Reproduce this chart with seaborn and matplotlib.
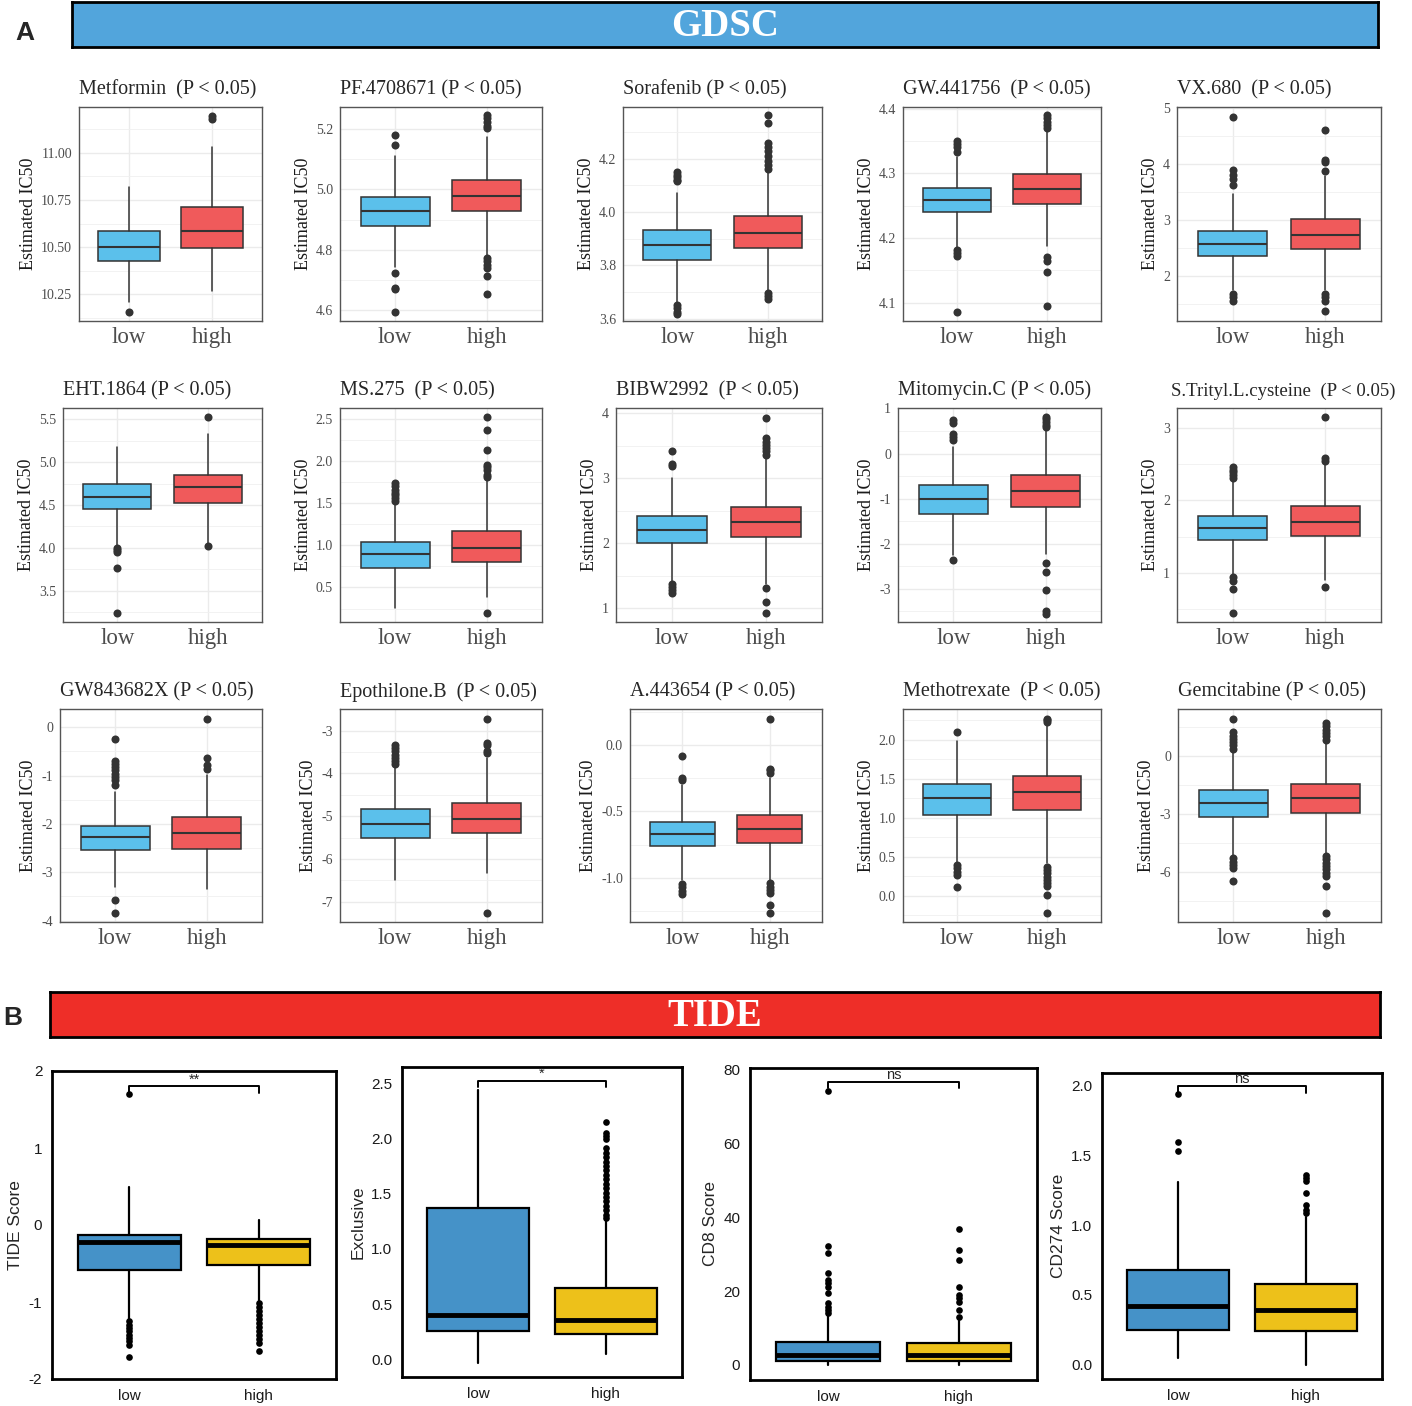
import matplotlib
matplotlib.use("Agg")
import matplotlib.pyplot as plt
import pandas as pd
import seaborn as sns
from matplotlib.ticker import AutoMinorLocator

# ---------------- data ----------------
groups = ["low", "high"]

gdsc_titles = [
    "Metformin  (P < 0.05)", "PF.4708671 (P < 0.05)", "Sorafenib (P < 0.05)",
    "GW.441756  (P < 0.05)", "VX.680  (P < 0.05)",
    "EHT.1864 (P < 0.05)", "MS.275  (P < 0.05)", "BIBW2992  (P < 0.05)",
    "Mitomycin.C (P < 0.05)", "S.Trityl.L.cysteine  (P < 0.05)",
    "GW843682X (P < 0.05)", "Epothilone.B  (P < 0.05)", "A.443654 (P < 0.05)",
    "Methotrexate  (P < 0.05)", "Gemcitabine (P < 0.05)",
]

# whisker low, q1, median, q3, whisker high
gdsc_low_box = [
    [10.211, 10.427, 10.502, 10.587, 10.817],
    [4.744, 4.879, 4.930, 4.976, 5.111],
    [3.661, 3.821, 3.875, 3.932, 4.072],
    [4.184, 4.240, 4.259, 4.277, 4.326],
    [1.74, 2.35, 2.57, 2.79, 3.45],
    [4.031, 4.453, 4.590, 4.742, 5.176],
    [0.262, 0.730, 0.893, 1.044, 1.51],
    [1.42, 2.0, 2.205, 2.42, 3.0],
    [-2.26, -1.348, -1.015, -0.70, 0.15],
    [0.99, 1.45, 1.62, 1.79, 2.26],
    [-3.30, -2.54, -2.28, -2.04, -1.34],
    [-6.49, -5.50, -5.18, -4.84, -3.85],
    [-1.015, -0.76, -0.67, -0.582, -0.304],
    [0.43, 1.04, 1.26, 1.44, 1.99],
    [-5.11, -3.14, -2.45, -1.73, 0.21],
]
gdsc_high_box = [
    [10.268, 10.495, 10.587, 10.711, 11.03],
    [4.783, 4.928, 4.979, 5.032, 5.174],
    [3.709, 3.865, 3.920, 3.985, 4.147],
    [4.188, 4.252, 4.275, 4.299, 4.366],
    [1.74, 2.48, 2.73, 3.01, 3.77],
    [4.051, 4.527, 4.707, 4.852, 5.328],
    [0.389, 0.798, 0.972, 1.173, 1.756],
    [1.38, 2.09, 2.33, 2.56, 3.30],
    [-2.22, -1.19, -0.837, -0.48, 0.53],
    [0.90, 1.51, 1.70, 1.93, 2.49],
    [-3.34, -2.51, -2.18, -1.85, -0.98],
    [-6.33, -5.40, -5.07, -4.69, -3.64],
    [-1.015, -0.74, -0.63, -0.53, -0.25],
    [0.417, 1.10, 1.33, 1.54, 2.18],
    [-4.99, -2.93, -2.16, -1.42, 0.63],
]
gdsc_low_out = [
    [10.158],
    [5.18, 5.147, 4.722, 4.672, 4.669, 4.594],
    [4.150, 4.141, 4.132, 4.122, 4.116, 3.652, 3.640, 3.627, 3.618],
    [4.35, 4.345, 4.340, 4.333, 4.181, 4.177, 4.172, 4.086],
    [4.84, 3.88, 3.79, 3.73, 3.62, 1.68, 1.61, 1.54],
    [4.0, 3.973, 3.945, 3.762, 3.238],
    [1.744, 1.704, 1.657, 1.625, 1.597, 1.565, 1.526],
    [3.41, 3.22, 3.18, 1.38, 1.33, 1.28, 1.24],
    [0.74, 0.68, 0.44, 0.37, 0.30, -2.37],
    [2.46, 2.42, 2.39, 2.35, 2.31, 0.945, 0.89, 0.78, 0.44],
    [-0.24, -0.69, -0.76, -0.82, -0.89, -0.96, -1.03, -1.10, -1.20, -3.58, -3.84],
    [-3.33, -3.40, -3.48, -3.56, -3.64, -3.71, -3.79],
    [-0.085, -0.247, -0.262, -1.045, -1.07, -1.095, -1.12],
    [2.10, 0.396, 0.353, 0.31, 0.268, 0.11],
    [1.92, 1.23, 1.06, 0.89, 0.72, 0.55, 0.38, -5.28, -5.45, -5.62, -5.79, -6.45],
]
gdsc_high_out = [
    [11.195, 11.181],
    [5.247, 5.236, 5.224, 5.211, 5.203, 4.772, 4.761, 4.75, 4.739, 4.713, 4.652],
    [4.363, 4.335, 4.26, 4.245, 4.229, 4.21, 4.191, 4.175, 4.16, 3.696, 3.684, 3.674],
    [4.39, 4.385, 4.380, 4.374, 4.370, 4.17, 4.164, 4.147, 4.095],
    [4.60, 4.06, 4.03, 3.86, 1.68, 1.61, 1.54, 1.36],
    [5.523, 4.016],
    [2.516, 2.361, 2.131, 1.952, 1.925, 1.893, 1.833, 1.806, 0.198],
    [3.93, 3.615, 3.56, 3.51, 3.46, 3.41, 3.35, 1.31, 1.10, 0.93],
    [0.81, 0.76, 0.70, 0.64, 0.59, -2.44, -2.63, -3.04, -3.50, -3.56],
    [3.15, 2.58, 2.55, 0.81],
    [0.17, -0.64, -0.79, -0.86],
    [-2.73, -3.29, -3.34, -3.48, -3.53, -7.26],
    [0.195, -0.18, -0.19, -0.21, -1.04, -1.065, -1.09, -1.115, -1.2, -1.26],
    [2.27, 2.25, 2.23, 0.374, 0.332, 0.289, 0.247, 0.204, 0.162, 0.12, 0.01, -0.22],
    [1.70, 1.53, 1.36, 1.18, 1.01, 0.84, -5.16, -5.33, -5.50, -5.67, -5.85,
     -6.05, -6.22, -6.70, -8.11],
]
gdsc_yticks = [
    [10.25, 10.50, 10.75, 11.00], [4.6, 4.8, 5.0, 5.2], [3.6, 3.8, 4.0, 4.2],
    [4.1, 4.2, 4.3, 4.4], [2, 3, 4, 5],
    [3.5, 4.0, 4.5, 5.0, 5.5], [0.5, 1.0, 1.5, 2.0, 2.5], [1, 2, 3, 4],
    [-3, -2, -1, 0, 1], [1, 2, 3],
    [-4, -3, -2, -1, 0], [-7, -6, -5, -4, -3], [-1.0, -0.5, 0.0],
    [0.0, 0.5, 1.0, 1.5, 2.0], [-6, -3, 0],
]
gdsc_yticklabels = [
    ["10.25", "10.50", "10.75", "11.00"], ["4.6", "4.8", "5.0", "5.2"],
    ["3.6", "3.8", "4.0", "4.2"], ["4.1", "4.2", "4.3", "4.4"], ["2", "3", "4", "5"],
    ["3.5", "4.0", "4.5", "5.0", "5.5"], ["0.5", "1.0", "1.5", "2.0", "2.5"],
    ["1", "2", "3", "4"], ["-3", "-2", "-1", "0", "1"], ["1", "2", "3"],
    ["-4", "-3", "-2", "-1", "0"], ["-7", "-6", "-5", "-4", "-3"],
    ["-1.0", "-0.5", "0.0"], ["0.0", "0.5", "1.0", "1.5", "2.0"], ["-6", "-3", "0"],
]
gdsc_ylim = [
    (10.108, 11.243), (4.563, 5.274), (3.592, 4.394), (4.0716, 4.4026), (1.19, 5.01),
    (3.133, 5.633), (0.091, 2.627), (0.79, 4.077), (-3.74, 1.01), (0.321, 3.277),
    (-4.03, 0.377), (-7.47, -2.496), (-1.33, 0.269), (-0.336, 2.396), (-8.57, 2.43),
]

tide_ylabels = ["TIDE Score", "Exclusive", "CD8 Score", "CD274 Score"]
tide_low_box = [
    [-1.23, -0.59, -0.22, -0.13, 0.50],
    [-0.03, 0.26, 0.40, 1.37, 2.44],
    [0.0, 1.2, 2.7, 6.3, 13.5],
    [0.048, 0.25, 0.42, 0.68, 1.31],
]
tide_high_box = [
    [-1.0, -0.52, -0.26, -0.18, 0.065],
    [0.054, 0.23, 0.36, 0.646, 1.26],
    [0.0, 1.1, 2.7, 5.9, 12.2],
    [0.0, 0.24, 0.39, 0.58, 1.06],
]
tide_low_out = [
    [1.70, -1.25, -1.30, -1.34, -1.38, -1.43, -1.47, -1.51, -1.56, -1.72],
    [],
    [74.2, 32.2, 30.2, 24.8, 23.0, 22.1, 21.2, 19.4, 16.7, 15.8, 14.9, 14.0],
    [1.94, 1.60, 1.53],
]
tide_high_out = [
    [-1.01, -1.07, -1.12, -1.17, -1.22, -1.27, -1.33, -1.38, -1.43, -1.48, -1.53, -1.63],
    [2.15, 2.05, 2.02, 1.99, 1.91, 1.87, 1.83, 1.79, 1.75, 1.71, 1.67, 1.63, 1.59,
     1.55, 1.51, 1.47, 1.43, 1.39, 1.35, 1.31, 1.28],
    [36.9, 31.1, 28.4, 21.2, 18.9, 18.0, 17.1, 14.9, 13.1],
    [1.36, 1.34, 1.32, 1.23, 1.145, 1.11, 1.09],
]
tide_yticks = [
    [-2, -1, 0, 1, 2], [0.0, 0.5, 1.0, 1.5, 2.0, 2.5],
    [0, 20, 40, 60, 80], [0.0, 0.5, 1.0, 1.5, 2.0],
]
tide_yticklabels = [
    ["-2", "-1", "0", "1", "2"], ["0.0", "0.5", "1.0", "1.5", "2.0", "2.5"],
    ["0", "20", "40", "60", "80"], ["0.0", "0.5", "1.0", "1.5", "2.0"],
]
tide_ylim = [(-2, 2), (-0.157, 2.645), (-4.06, 80.3), (-0.103, 2.093)]
tide_bracket_top = [1.80, 2.52, 76.5, 2.0]
tide_bracket_tip = [1.72, 2.46, 74.8, 1.95]
tide_sig = ["**", "*", "ns", "ns"]

# ---------------- layout (pixels) ----------------
W, H = 1412, 1406
gdsc_rows = [(107, 321), (408, 622), (709, 922)]
gdsc_lefts = [[79, 340, 623, 903, 1177],
              [63, 340, 616, 898, 1177],
              [60, 340, 630, 903, 1178]]
gdsc_rights = [262, 542, 822, 1101, 1381]
tide_boxes = [(52, 336, 1071, 1379), (402, 682, 1067, 1377),
              (750, 1037, 1068, 1380), (1102, 1382, 1073, 1379)]

gdsc_colors = ["#5BC0EB", "#F05A5B"]
tide_colors = ["#4592C8", "#EDC11A"]
SERIF = ["Liberation Serif", "DejaVu Serif"]
SANS = ["Liberation Sans", "DejaVu Sans"]

sns.set_theme(style="white")
plt.rcParams["font.family"] = SERIF


def px_rect(l, r, t, b):
    return [l / W, 1 - b / H, (r - l) / W, (b - t) / H]


def to_stats(box):
    return {"whislo": box[0], "q1": box[1], "med": box[2], "q3": box[3],
            "whishi": box[4], "fliers": []}


def outlier_frame(lo, hi):
    return pd.DataFrame({"group": ["low"] * len(lo) + ["high"] * len(hi),
                         "value": list(lo) + list(hi)})


def draw_boxes(ax, low, high, colors, width, edge, lw, med_lw):
    bp = ax.bxp([to_stats(low), to_stats(high)], positions=[0, 1], widths=width,
                patch_artist=True, showcaps=False, showfliers=False,
                manage_ticks=False,
                boxprops=dict(edgecolor=edge, linewidth=lw),
                medianprops=dict(color=edge, linewidth=med_lw),
                whiskerprops=dict(color=edge, linewidth=lw))
    for patch, c in zip(bp["boxes"], colors):
        patch.set_facecolor(c)
        patch.set_zorder(2)


fig = plt.figure(figsize=(W / 100, H / 100), dpi=100)

# banners
for (l, r, t, b), col, txt in [((72, 1378, 2, 47), "#52A5DC", "GDSC"),
                               ((50, 1380, 992, 1037), "#EE2E28", "TIDE")]:
    bax = fig.add_axes(px_rect(l, r, t, b))
    bax.set_facecolor(col)
    bax.set_xticks([])
    bax.set_yticks([])
    for s in bax.spines.values():
        s.set_visible(True)
        s.set_linewidth(2)
        s.set_color("black")
    bax.text(0.5, 0.45, txt, transform=bax.transAxes, ha="center", va="center",
             color="white", fontsize=28, fontweight="bold", family=SERIF)

fig.text(25 / W, 1 - 33 / H, "A", fontsize=19, fontweight="bold", family=SANS,
         ha="center", va="center")
fig.text(13 / W, 1 - 1018 / H, "B", fontsize=19, fontweight="bold", family=SANS,
         ha="center", va="center")

# GDSC panels
for i in range(15):
    row, col = divmod(i, 5)
    t, b = gdsc_rows[row]
    ax = fig.add_axes(px_rect(gdsc_lefts[row][col], gdsc_rights[col], t, b))
    draw_boxes(ax, gdsc_low_box[i], gdsc_high_box[i], gdsc_colors, 0.75,
               "#333333", 1.1, 1.5)
    sns.stripplot(data=outlier_frame(gdsc_low_out[i], gdsc_high_out[i]),
                  x="group", y="value", order=groups, jitter=False,
                  color="#333333", size=5.8, linewidth=0, ax=ax, zorder=3)
    ax.set_xlim(-0.6, 1.6)
    ax.set_ylim(*gdsc_ylim[i])
    ax.set_xticks([0, 1])
    ax.set_xticklabels(groups, fontsize=16.5, color="#4D4D4D")
    ax.set_yticks(gdsc_yticks[i])
    ax.set_yticklabels(gdsc_yticklabels[i], fontsize=10, color="#4D4D4D")
    ax.yaxis.set_minor_locator(AutoMinorLocator(2))
    ax.grid(True, which="major", color="#EBEBEB", linewidth=1.0)
    ax.yaxis.grid(True, which="minor", color="#F0F0F0", linewidth=0.6)
    ax.set_axisbelow(True)
    ax.tick_params(which="major", length=3, width=0.8, color="#333333", pad=2)
    ax.tick_params(which="minor", length=0)
    ax.tick_params(axis="x", pad=1)
    for s in ax.spines.values():
        s.set_color("#555555")
        s.set_linewidth(1.0)
    ax.set_xlabel("")
    ax.set_ylabel("Estimated IC50", fontsize=13, labelpad=3, color="#1A1A1A")
    if len(gdsc_titles[i]) > 28:
        ax.set_title(gdsc_titles[i], loc="left", fontsize=13.5, pad=9, x=-0.03)
    else:
        ax.set_title(gdsc_titles[i], loc="left", fontsize=14.5, pad=9)

# TIDE panels
for i in range(4):
    ax = fig.add_axes(px_rect(*tide_boxes[i]))
    draw_boxes(ax, tide_low_box[i], tide_high_box[i], tide_colors, 0.8,
               "black", 1.6, 3.5)
    sns.stripplot(data=outlier_frame(tide_low_out[i], tide_high_out[i]),
                  x="group", y="value", order=groups, jitter=False,
                  color="black", size=4.8, linewidth=0, ax=ax, zorder=3)
    ax.plot([0, 0, 1, 1],
            [tide_bracket_tip[i], tide_bracket_top[i], tide_bracket_top[i],
             tide_bracket_tip[i]], color="black", linewidth=1.4)
    ax.text(0.5, tide_bracket_top[i], tide_sig[i], ha="center", va="bottom",
            fontsize=10.5, family=SANS)
    ax.set_xlim(-0.6, 1.6)
    ax.set_ylim(*tide_ylim[i])
    ax.set_xticks([0, 1])
    ax.set_xticklabels(groups, fontsize=11, family=SANS, color="#1A1A1A")
    ax.set_yticks(tide_yticks[i])
    ax.set_yticklabels(tide_yticklabels[i], fontsize=11, family=SANS,
                       color="#1A1A1A")
    ax.grid(False)
    ax.tick_params(length=4, width=1, color="black", pad=3)
    for s in ax.spines.values():
        s.set_color("black")
        s.set_linewidth(2)
    ax.set_xlabel("")
    ax.set_ylabel(tide_ylabels[i], fontsize=12.5, family=SANS, labelpad=4)

fig.savefig("out.png", dpi=100)
